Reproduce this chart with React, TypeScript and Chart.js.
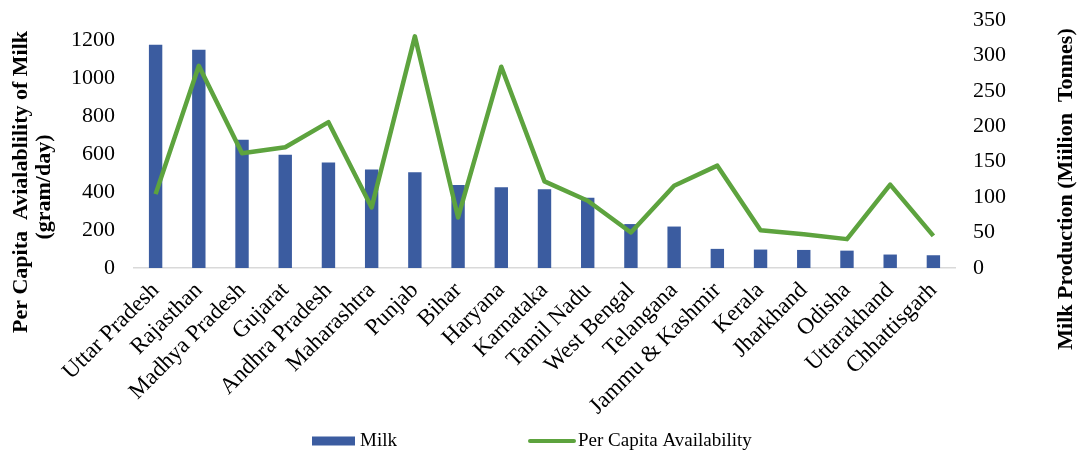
import React, { useEffect, useRef } from 'react';
import { Chart, registerables } from 'chart.js';

Chart.register(...registerables);

const categories = [
  'Uttar Pradesh', 'Rajasthan', 'Madhya Pradesh', 'Gujarat', 'Andhra Pradesh',
  'Maharashtra', 'Punjab', 'Bihar', 'Haryana', 'Karnataka', 'Tamil Nadu',
  'West Bengal', 'Telangana', 'Jammu & Kashmir', 'Kerala', 'Jharkhand',
  'Odisha', 'Uttarakhand', 'Chhattisgarh',
];

// Milk production (right axis, Million Tonnes)
const milkProduction = [315, 308, 181, 160, 149, 139, 135, 117, 114, 111, 99, 62, 58.5, 27, 26, 25.5, 24.5, 19, 18];

// Per capita availability (left axis, gram/day)
const perCapita = [389, 1065, 604, 636, 768, 319, 1220, 266, 1060, 456, 354, 187, 433, 539, 199, 178, 152, 439, 169];

const leftTicks = [0, 200, 400, 600, 800, 1000, 1200];
const rightTicks = [0, 50, 100, 150, 200, 250, 300, 350];

const FONT = "'Liberation Serif', 'Times New Roman', serif";
const BLUE = '#3B5CA0';
const GREEN = '#5DA33E';

export default function App() {
  const ref = useRef<HTMLCanvasElement>(null);

  useEffect(() => {
    if (!ref.current) return;
    const overlay = {
      id: 'overlay',
      afterDraw(chart: any) {
        const ctx = chart.ctx as CanvasRenderingContext2D;
        ctx.save();
        ctx.fillStyle = '#000';
        ctx.font = `bold 22px ${FONT}`;
        ctx.textAlign = 'center';
        ctx.textBaseline = 'middle';
        const drawV = (text: string, x: number, y: number) => {
          ctx.save();
          ctx.translate(x, y);
          ctx.rotate(-Math.PI / 2);
          ctx.fillText(text, 0, 0);
          ctx.restore();
        };
        drawV('Per Capita  Avialablility of Milk', 21, 182);
        drawV('(gram/day)', 44, 187);
        drawV('Milk Production (Miilion  Tonnes)', 1066, 189);

        // legend
        const ly = 441;
        ctx.fillStyle = BLUE;
        ctx.fillRect(312, ly - 4.5, 43, 9);
        ctx.fillStyle = '#000';
        ctx.font = `19px ${FONT}`;
        ctx.textAlign = 'left';
        ctx.fillText('Milk', 360, ly);
        ctx.strokeStyle = GREEN;
        ctx.lineWidth = 4;
        ctx.lineCap = 'round';
        ctx.beginPath();
        ctx.moveTo(530, ly);
        ctx.lineTo(574, ly);
        ctx.stroke();
        ctx.fillText('Per Capita Availability', 578, ly);
        ctx.restore();
      },
    };

    const yFont = { family: FONT, size: 22 };
    const xFont = { family: FONT, size: 23 };

    const chart = new Chart(ref.current, {
      data: {
        labels: categories,
        datasets: [
          {
            type: 'line',
            label: 'Per Capita Availability',
            data: perCapita,
            yAxisID: 'yLeft',
            borderColor: GREEN,
            backgroundColor: GREEN,
            borderWidth: 4.5,
            pointRadius: 0,
            tension: 0,
            borderJoinStyle: 'round',
            order: 0,
          } as any,
          {
            type: 'bar',
            label: 'Milk',
            data: milkProduction,
            yAxisID: 'yRight',
            backgroundColor: BLUE,
            barPercentage: 0.31,
            categoryPercentage: 1,
            order: 1,
          } as any,
        ],
      },
      options: {
        animation: false,
        responsive: false,
        maintainAspectRatio: false,
        layout: { padding: { top: 20, left: 0, right: 0, bottom: 0 } },
        plugins: { legend: { display: false }, tooltip: { enabled: false } },
        scales: {
          x: {
            grid: { display: false, drawTicks: false },
            border: { display: true, color: '#d9d9d9', width: 1.5 },
            ticks: {
              font: xFont,
              color: '#000',
              maxRotation: 45,
              minRotation: 45,
              autoSkip: false,
              padding: 9,
            },
            afterFit: (s: any) => { s.height = 188; s.paddingLeft = 0; s.paddingRight = 0; },
          },
          yLeft: {
            position: 'left',
            min: 0,
            max: 1306,
            grid: { display: false, drawTicks: false },
            border: { display: false },
            ticks: {
              font: yFont,
              color: '#000',
              padding: 19,
              callback: (v: any) => String(v),
            },
            afterBuildTicks: (s: any) => { s.ticks = leftTicks.map((v) => ({ value: v })); },
            afterFit: (s: any) => { s.width = 134; s.paddingTop = 0; s.paddingBottom = 0; },
          },
          yRight: {
            position: 'right',
            min: 0,
            max: 350,
            grid: { display: false, drawTicks: false },
            border: { display: false },
            ticks: {
              font: yFont,
              color: '#000',
              padding: 18,
              callback: (v: any) => String(v),
            },
            afterBuildTicks: (s: any) => { s.ticks = rightTicks.map((v) => ({ value: v })); },
            afterFit: (s: any) => { s.width = 122; s.paddingTop = 0; s.paddingBottom = 0; },
          },
        },
      } as any,
      plugins: [overlay],
    });
    return () => chart.destroy();
  }, []);

  return (
    <div style={{ position: 'absolute', left: 0, top: 0, width: 1077, height: 456, background: '#fff' }}>
      <canvas ref={ref} width={1077} height={456} style={{ display: 'block' }} />
    </div>
  );
}
